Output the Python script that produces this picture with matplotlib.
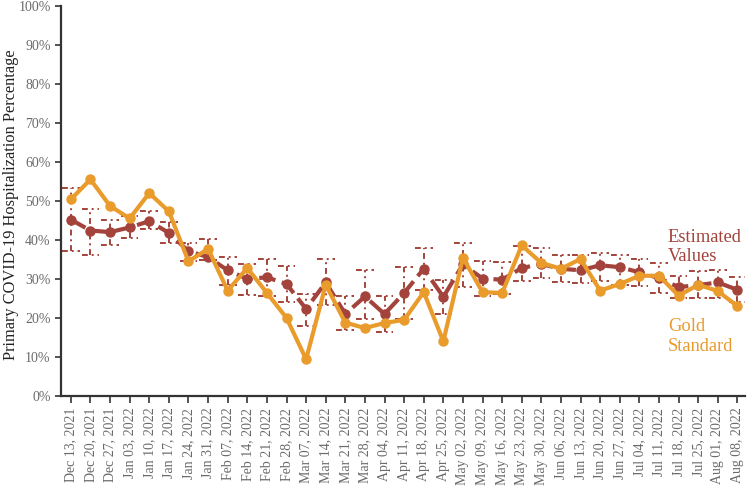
import matplotlib.pyplot as plt
from matplotlib.ticker import PercentFormatter

weeks = ["Dec 13, 2021", "Dec 20, 2021", "Dec 27, 2021", "Jan 03, 2022", "Jan 10, 2022",
         "Jan 17, 2022", "Jan 24, 2022", "Jan 31, 2022", "Feb 07, 2022", "Feb 14, 2022",
         "Feb 21, 2022", "Feb 28, 2022", "Mar 07, 2022", "Mar 14, 2022", "Mar 21, 2022",
         "Mar 28, 2022", "Apr 04, 2022", "Apr 11, 2022", "Apr 18, 2022", "Apr 25, 2022",
         "May 02, 2022", "May 09, 2022", "May 16, 2022", "May 23, 2022", "May 30, 2022",
         "Jun 06, 2022", "Jun 13, 2022", "Jun 20, 2022", "Jun 27, 2022", "Jul 04, 2022",
         "Jul 11, 2022", "Jul 18, 2022", "Jul 25, 2022", "Aug 01, 2022", "Aug 08, 2022"]

# percentages
estimated = [45.2, 42.4, 42.0, 43.2, 44.8, 41.8, 37.1, 35.6, 32.2, 30.0,
             30.4, 28.7, 22.3, 29.1, 21.0, 25.5, 21.0, 26.4, 32.6, 25.4,
             33.7, 30.1, 29.8, 32.8, 33.8, 32.6, 32.2, 33.5, 33.0, 31.7,
             30.2, 27.9, 28.4, 29.1, 27.2]
est_upper = [53.2, 48.0, 45.2, 46.0, 47.3, 44.5, 39.2, 40.3, 35.6, 33.7,
             35.0, 33.4, 26.2, 35.1, 25.5, 32.2, 25.7, 33.0, 37.8, 29.8,
             39.2, 34.5, 34.3, 38.4, 38.0, 36.0, 36.0, 36.6, 36.0, 35.0,
             34.0, 30.7, 32.1, 32.4, 30.5]
est_lower = [37.1, 36.2, 38.6, 40.4, 42.7, 39.3, 34.5, 34.8, 28.5, 26.0,
             25.5, 24.0, 17.8, 23.2, 16.8, 19.8, 16.3, 19.7, 27.2, 21.0,
             27.9, 25.5, 26.2, 29.4, 30.2, 29.1, 29.0, 29.5, 28.5, 28.3,
             26.4, 25.1, 25.1, 25.1, 24.2]
gold = [50.4, 55.5, 48.7, 45.5, 52.0, 47.3, 34.5, 37.7, 27.0, 32.8,
        26.4, 20.0, 9.4, 28.5, 18.8, 17.4, 18.7, 19.5, 26.6, 14.0,
        35.4, 26.6, 26.4, 38.6, 34.1, 32.6, 35.1, 27.0, 28.7, 30.8,
        30.8, 25.7, 28.5, 26.9, 23.0]

brown = "#a3433b"
orange = "#e99b2c"
grey = "#6a6a6a"

plt.rcParams['font.family'] = ['Liberation Serif', 'DejaVu Serif']

fig = plt.figure(figsize=(7.49, 4.87), dpi=100)
ax = fig.add_axes([0.0815, 0.187, 0.9135, 0.801])

x = list(range(len(weeks)))

# dotted interval boxes around the estimates
box_ls = (0, (3, 2, 1, 2))
ax.vlines(x, est_lower, est_upper, colors=brown, linestyles=box_ls, linewidth=1.4, zorder=1)
ax.hlines(est_upper, [i - 0.45 for i in x], [i + 0.45 for i in x], colors=brown,
          linestyles=box_ls, linewidth=1.4, zorder=1)
ax.hlines(est_lower, [i - 0.45 for i in x], [i + 0.45 for i in x], colors=brown,
          linestyles=box_ls, linewidth=1.4, zorder=1)

ax.plot(x, estimated, color=brown, linewidth=3, linestyle=(0, (4, 1.6)),
        marker="o", markersize=6.5, zorder=2)
ax.plot(x, gold, color=orange, linewidth=3, marker="o", markersize=6.5, zorder=3)

ax.text(30.45, 38.2, "Estimated\nValues", color=brown, fontsize=13.3, va="center",
        linespacing=1.2)
ax.text(30.45, 15.3, "Gold\nStandard", color=orange, fontsize=13.3, va="center",
        linespacing=1.2)

ax.set_xlim(-0.5, 34.4)
ax.set_ylim(0, 100)
ax.set_xticks(x)
ax.set_xticklabels(weeks, rotation=90, fontsize=10, color=grey)
ax.set_yticks(range(0, 101, 10))
ax.yaxis.set_major_formatter(PercentFormatter(decimals=0))
ax.tick_params(axis="y", labelsize=10, labelcolor=grey, length=4, width=1.2, color="#333333")
ax.tick_params(axis="x", length=5, width=1.2, color="#333333")
ax.set_ylabel("Primary COVID-19 Hospitalization Percentage", fontsize=11.8, color="#222222")
ax.yaxis.set_label_coords(-0.062, 0.49)

for side in ["top", "right"]:
    ax.spines[side].set_visible(False)
for side in ["left", "bottom"]:
    ax.spines[side].set_linewidth(1.6)
    ax.spines[side].set_color("#333333")

fig.savefig("out.png", dpi=100)
